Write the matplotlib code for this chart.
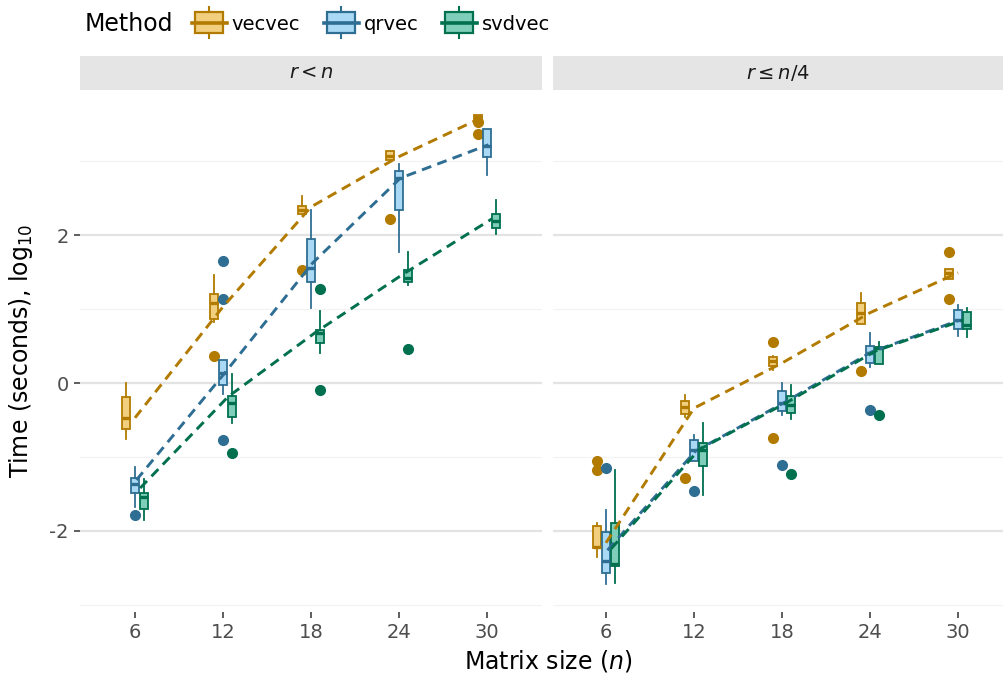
import matplotlib
matplotlib.use("Agg")
import matplotlib.pyplot as plt
from matplotlib.patches import Rectangle, Patch
from matplotlib.lines import Line2D
from matplotlib.legend_handler import HandlerBase

plt.rcParams["font.family"] = ["DejaVu Sans"]
plt.rcParams["mathtext.fontset"] = "dejavusans"

n_sizes = [6, 12, 18, 24, 30]
methods = ["vecvec", "qrvec", "svdvec"]
edge_cols = ["#B27B00", "#2F6E93", "#00704F"]
fill_cols = ["#F2CF7F", "#A9D9F4", "#7FCEB9"]

# box stats per n: (whislo, q1, median, q3, whishi), log10 seconds
# panel 1: r < n
full_vecvec = [(-0.76, -0.62, -0.47, -0.19, 0.00), (0.83, 0.87, 1.08, 1.20, 1.46),
               (2.28, 2.28, 2.34, 2.39, 2.53), (3.01, 3.01, 3.07, 3.14, 3.14),
               (3.55, 3.55, 3.59, 3.62, 3.62)]
full_qrvec = [(-1.67, -1.48, -1.37, -1.29, -1.13), (-0.15, -0.03, 0.14, 0.31, 0.31),
              (1.01, 1.36, 1.56, 1.95, 2.34), (1.77, 2.34, 2.77, 2.87, 2.96),
              (2.81, 3.06, 3.20, 3.43, 3.43)]
full_svdvec = [(-1.85, -1.70, -1.54, -1.49, -1.30), (-0.54, -0.46, -0.27, -0.18, 0.12),
               (0.40, 0.54, 0.67, 0.72, 0.97), (1.32, 1.36, 1.42, 1.53, 1.77),
               (2.01, 2.10, 2.19, 2.28, 2.48)]
full_vecvec_out = [[], [0.37], [1.53], [2.22], [3.53, 3.37]]
full_qrvec_out = [[-1.79], [1.65, 1.13, -0.77], [], [], []]
full_svdvec_out = [[], [-0.94], [1.27, -0.095], [0.455], []]
full_vecvec_line = [-0.47, 1.03, 2.38, 3.06, 3.62]
full_qrvec_line = [-1.31, 0.13, 1.62, 2.77, 3.22]
full_svdvec_line = [-1.42, -0.185, 0.69, 1.48, 2.22]

# panel 2: r <= n/4
low_vecvec = [(-2.35, -2.23, -2.21, -1.93, -1.89), (-0.455, -0.42, -0.33, -0.25, -0.16),
              (0.175, 0.23, 0.30, 0.355, 0.36), (0.80, 0.80, 0.95, 1.085, 1.21),
              (1.41, 1.41, 1.48, 1.54, 1.54)]
low_qrvec = [(-2.71, -2.57, -2.41, -2.02, -1.71), (-1.06, -1.06, -0.905, -0.77, -0.70),
             (-0.43, -0.38, -0.275, -0.11, 0.0), (0.22, 0.275, 0.40, 0.50, 0.67),
             (0.64, 0.73, 0.85, 0.99, 1.05)]
low_svdvec = [(-2.70, -2.48, -2.44, -1.89, -1.17), (-1.51, -1.12, -0.905, -0.81, -0.54),
              (-0.48, -0.41, -0.30, -0.175, -0.03), (0.26, 0.26, 0.47, 0.49, 0.56),
              (0.62, 0.73, 0.78, 0.96, 1.01)]
low_vecvec_out = [[-1.05, -1.18], [-1.29], [0.56, -0.74], [0.16], [1.77, 1.14]]
low_qrvec_out = [[-1.15], [-1.46], [-1.11], [-0.36], []]
low_svdvec_out = [[], [], [-1.23], [-0.43], []]
low_vecvec_line = [-2.16, -0.34, 0.27, 0.95, 1.49]
low_qrvec_line = [-2.26, -0.92, -0.27, 0.42, 0.85]
low_svdvec_line = [-2.24, -0.90, -0.26, 0.43, 0.85]

box_shift = [-0.6, 0.0, 0.6]
line_shift = [0.0, 0.1, 0.35]


def draw_panel(ax, boxes, outs, lines):
    for k in range(3):
        stats = []
        for (lo, q1, med, q3, hi), fl in zip(boxes[k], outs[k]):
            stats.append(dict(whislo=lo, q1=q1, med=med, q3=q3, whishi=hi, fliers=fl))
        ax.bxp(stats, positions=[n + box_shift[k] for n in n_sizes], widths=0.55,
               patch_artist=True, manage_ticks=False, showcaps=False,
               boxprops=dict(facecolor=fill_cols[k], edgecolor=edge_cols[k], linewidth=1.3),
               medianprops=dict(color=edge_cols[k], linewidth=2.4),
               whiskerprops=dict(color=edge_cols[k], linewidth=1.3),
               flierprops=dict(marker="o", markerfacecolor=edge_cols[k],
                               markeredgecolor=edge_cols[k], markersize=7))
    for k in range(3):
        ax.plot([n + line_shift[k] for n in n_sizes], lines[k], color=edge_cols[k],
                lw=2.1, dashes=(3.4, 2.2), zorder=4)


def style_axis(ax, title, show_y):
    for s in ax.spines.values():
        s.set_visible(False)
    ax.set_ylim(-3.095, 3.96)
    ax.set_yticks([-2, 0, 2])
    ax.set_yticks([-3, -1, 1, 3], minor=True)
    ax.set_xticks(n_sizes)
    ax.set_xticklabels([str(n) for n in n_sizes])
    ax.grid(which="major", axis="y", color="#e3e3e3", lw=1.6)
    ax.grid(which="minor", axis="y", color="#f3f3f3", lw=0.9)
    ax.set_axisbelow(True)
    ax.tick_params(which="minor", length=0)
    ax.tick_params(which="major", length=4, width=1.1, color="#333333",
                   labelcolor="#4d4d4d", labelsize=14, pad=4)
    if show_y:
        ax.set_yticklabels(["-2", "0", "2"])
    else:
        ax.tick_params(axis="y", length=0, labelleft=False)
    strip_h = 34 / 522
    ax.add_patch(Rectangle((0, 1), 1, strip_h, transform=ax.transAxes,
                           clip_on=False, facecolor="#e5e5e5", edgecolor="none"))
    ax.text(0.5, 1 + strip_h / 2, title, transform=ax.transAxes, ha="center",
            va="center", fontsize=14, color="#1a1a1a")


class BoxKey(HandlerBase):
    def create_artists(self, legend, orig, xd, yd, w, h, fs, trans):
        fc = orig.get_facecolor()
        ec = orig.get_edgecolor()
        cx = -xd + w / 2
        cy = -yd + h / 2
        whisk = Line2D([cx, cx], [cy - 1.05 * h, cy + 1.05 * h], color=ec, lw=1.5,
                       transform=trans)
        rect = Rectangle((-xd + 0.1 * w, cy - 0.7 * h), 0.8 * w, 1.4 * h, facecolor=fc,
                         edgecolor=ec, lw=1.6, transform=trans)
        mid = Line2D([-xd, -xd + w], [cy, cy], color=ec, lw=2.6, transform=trans)
        return [whisk, rect, mid]


fig = plt.figure(figsize=(10.04, 6.77), dpi=100)
W, H = 1004, 677
ax1 = fig.add_axes([80 / W, 1 - 612 / H, 462 / W, 522 / H])
ax2 = fig.add_axes([553 / W, 1 - 612 / H, 451 / W, 522 / H])

draw_panel(ax1, [full_vecvec, full_qrvec, full_svdvec],
           [full_vecvec_out, full_qrvec_out, full_svdvec_out],
           [full_vecvec_line, full_qrvec_line, full_svdvec_line])
draw_panel(ax2, [low_vecvec, low_qrvec, low_svdvec],
           [low_vecvec_out, low_qrvec_out, low_svdvec_out],
           [low_vecvec_line, low_qrvec_line, low_svdvec_line])

style_axis(ax1, r"$r < n$", True)
style_axis(ax2, r"$r \leq n/4$", False)
ax1.set_xlim(2.25, 33.75)
ax2.set_xlim(2.39, 33.13)

ax1.set_ylabel(r"Time (seconds), log$_{10}$", fontsize=17, labelpad=10)
fig.text(548 / W, 1 - 661 / H, r"Matrix size ($n$)", fontsize=17, ha="center", va="center")

handles = [Patch(facecolor=f, edgecolor=e) for f, e in zip(fill_cols, edge_cols)]
fig.text(85 / W, 1 - 24 / H, "Method", fontsize=17, va="center")
fig.legend(handles, methods, loc="center left", bbox_to_anchor=(192 / W, 1 - 24 / H),
           ncol=3, frameon=False, fontsize=14, handlelength=1.8, handleheight=0.8,
           handletextpad=0.25, columnspacing=1.2, borderpad=0, borderaxespad=0,
           handler_map={Patch: BoxKey()})

fig.savefig("out.png", dpi=100)
